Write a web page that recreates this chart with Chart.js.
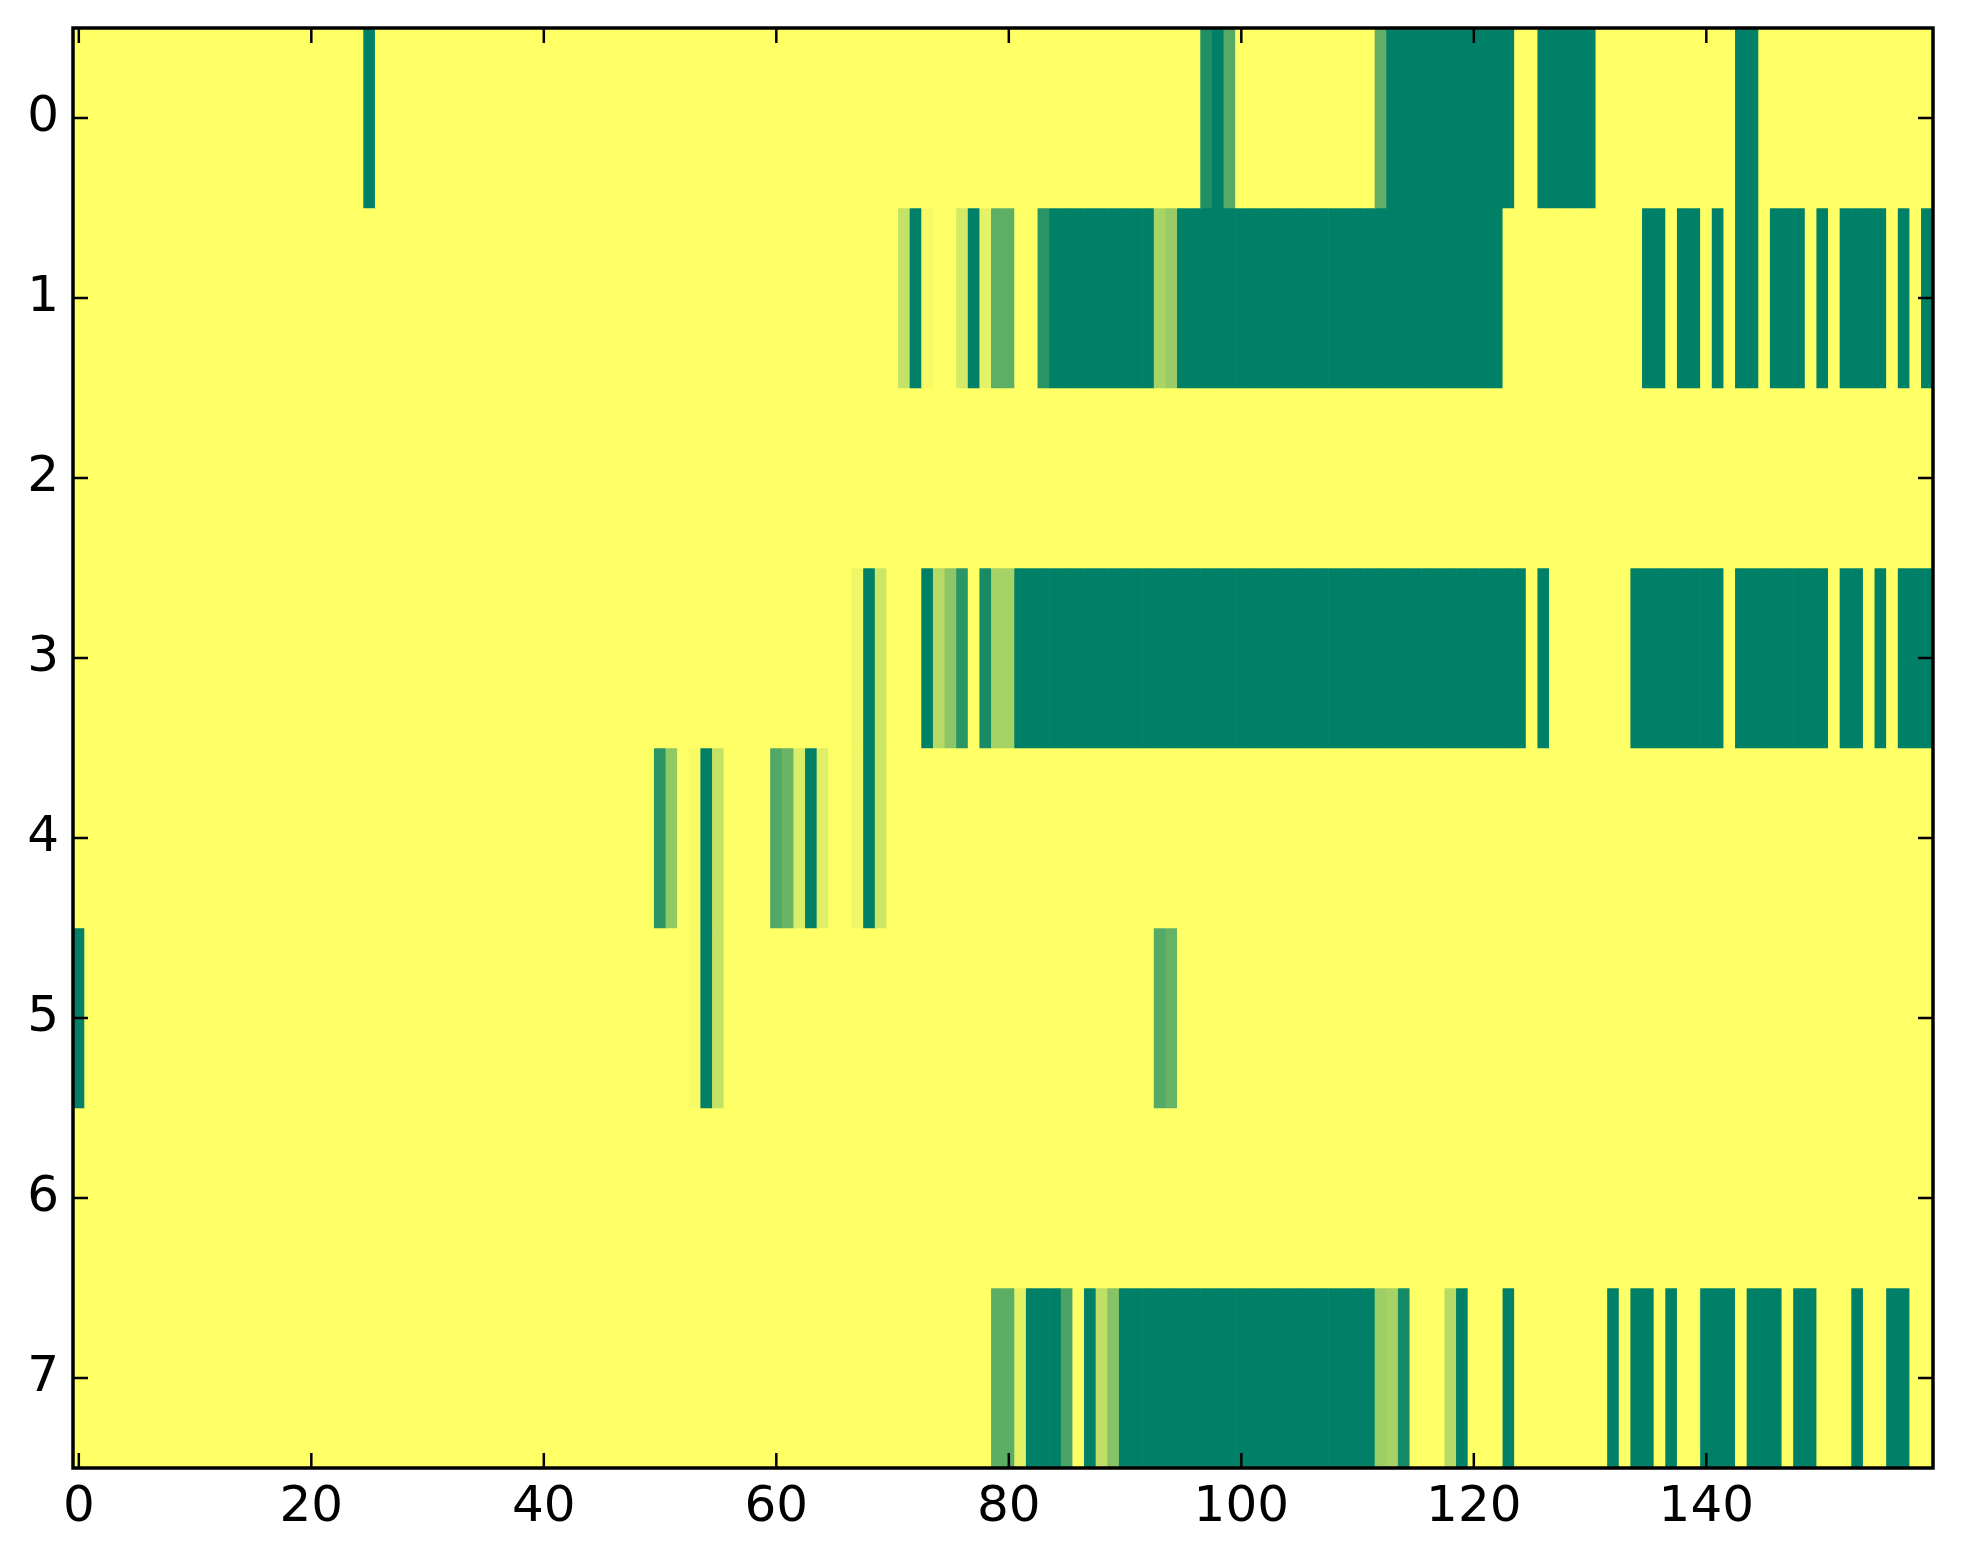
<!DOCTYPE html>
<html>
<head>
<meta charset="utf-8">
<script src="https://cdn.jsdelivr.net/npm/chart.js@4.4.1/dist/chart.umd.min.js"></script>
<style>
html, body { margin: 0; padding: 0; background: #fff; }
#wrap { width: 1963px; height: 1564px; }
</style>
</head>
<body>
<div id="wrap"><canvas id="chart-heatmap"></canvas></div>
<script>
// tick labels
var rowLabels = [0, 1, 2, 3, 4, 5, 6, 7];
var xTicks = [0, 20, 40, 60, 80, 100, 120, 140];

// cell values, one array per row, 160 columns each (0 = yellow, 1 = dark green)
var row0 = [
  0,0,0,0,0,0,0,0,0,0, 0,0,0,0,0,0,0,0,0,0,
  0,0,0,0,0,1,0,0,0,0, 0,0,0,0,0,0,0,0,0,0,
  0,0,0,0,0,0,0,0,0,0, 0,0,0,0,0,0,0,0,0,0,
  0,0,0,0,0,0,0,0,0,0, 0,0,0,0,0,0,0,0,0,0,
  0,0,0,0,0,0,0,0,0,0, 0,0,0,0,0,0,0,.87,1,.67,
  0,0,0,0,0,0,0,0,0,0, 0,0,.62,1,1,1,1,1,1,1,
  1,1,1,1,0,0,1,1,1,1, 1,0,0,0,0,0,0,0,0,0,
  0,0,0,1,1,0,0,0,0,0, 0,0,0,0,0,0,0,0,0,0
];
var row1 = [
  0,0,0,0,0,0,0,0,0,0, 0,0,0,0,0,0,0,0,0,0,
  0,0,0,0,0,0,0,0,0,0, 0,0,0,0,0,0,0,0,0,0,
  0,0,0,0,0,0,0,0,0,0, 0,0,0,0,0,0,0,0,0,0,
  0,0,0,0,0,0,0,0,0,0, 0,.23,1,.04,0,0,.17,1,.1,.63,
  .63,0,0,.84,1,1,1,1,1,1, 1,1,1,.34,.4,1,1,1,1,1,
  1,1,1,1,1,1,1,1,1,1, 1,1,1,1,1,1,1,1,1,1,
  1,1,1,0,0,0,0,0,0,0, 0,0,0,0,0,1,1,0,1,1,
  0,1,0,1,1,0,1,1,1,0, 1,0,1,1,1,1,0,1,0,1
];
var row2 = [
  0,0,0,0,0,0,0,0,0,0, 0,0,0,0,0,0,0,0,0,0,
  0,0,0,0,0,0,0,0,0,0, 0,0,0,0,0,0,0,0,0,0,
  0,0,0,0,0,0,0,0,0,0, 0,0,0,0,0,0,0,0,0,0,
  0,0,0,0,0,0,0,0,0,0, 0,0,0,0,0,0,0,0,0,0,
  0,0,0,0,0,0,0,0,0,0, 0,0,0,0,0,0,0,0,0,0,
  0,0,0,0,0,0,0,0,0,0, 0,0,0,0,0,0,0,0,0,0,
  0,0,0,0,0,0,0,0,0,0, 0,0,0,0,0,0,0,0,0,0,
  0,0,0,0,0,0,0,0,0,0, 0,0,0,0,0,0,0,0,0,0
];
var row3 = [
  0,0,0,0,0,0,0,0,0,0, 0,0,0,0,0,0,0,0,0,0,
  0,0,0,0,0,0,0,0,0,0, 0,0,0,0,0,0,0,0,0,0,
  0,0,0,0,0,0,0,0,0,0, 0,0,0,0,0,0,0,0,0,0,
  0,0,0,0,0,0,0,.06,1,.2, 0,0,0,1,.29,.45,.83,0,.91,.35,
  .35,1,1,1,1,1,1,1,1,1, 1,1,1,1,1,1,1,1,1,1,
  1,1,1,1,1,1,1,1,1,1, 1,1,1,1,1,1,1,1,1,1,
  1,1,1,1,1,0,1,0,0,0, 0,0,0,0,1,1,1,1,1,1,
  1,1,0,1,1,1,1,1,1,1, 1,0,1,1,0,1,0,1,1,1
];
var row4 = [
  0,0,0,0,0,0,0,0,0,0, 0,0,0,0,0,0,0,0,0,0,
  0,0,0,0,0,0,0,0,0,0, 0,0,0,0,0,0,0,0,0,0,
  0,0,0,0,0,0,0,0,0,0, .83,.43,0,.03,1,.23,0,0,0,0,
  .68,.59,.14,1,.12,0,0,.06,1,.2, 0,0,0,0,0,0,0,0,0,0,
  0,0,0,0,0,0,0,0,0,0, 0,0,0,0,0,0,0,0,0,0,
  0,0,0,0,0,0,0,0,0,0, 0,0,0,0,0,0,0,0,0,0,
  0,0,0,0,0,0,0,0,0,0, 0,0,0,0,0,0,0,0,0,0,
  0,0,0,0,0,0,0,0,0,0, 0,0,0,0,0,0,0,0,0,0
];
var row5 = [
  1,0,0,0,0,0,0,0,0,0, 0,0,0,0,0,0,0,0,0,0,
  0,0,0,0,0,0,0,0,0,0, 0,0,0,0,0,0,0,0,0,0,
  0,0,0,0,0,0,0,0,0,0, 0,0,0,.03,1,.23,0,0,0,0,
  0,0,0,0,0,0,0,0,0,0, 0,0,0,0,0,0,0,0,0,0,
  0,0,0,0,0,0,0,0,0,0, 0,0,0,.67,.6,0,0,0,0,0,
  0,0,0,0,0,0,0,0,0,0, 0,0,0,0,0,0,0,0,0,0,
  0,0,0,0,0,0,0,0,0,0, 0,0,0,0,0,0,0,0,0,0,
  0,0,0,0,0,0,0,0,0,0, 0,0,0,0,0,0,0,0,0,0
];
var row6 = [
  0,0,0,0,0,0,0,0,0,0, 0,0,0,0,0,0,0,0,0,0,
  0,0,0,0,0,0,0,0,0,0, 0,0,0,0,0,0,0,0,0,0,
  0,0,0,0,0,0,0,0,0,0, 0,0,0,0,0,0,0,0,0,0,
  0,0,0,0,0,0,0,0,0,0, 0,0,0,0,0,0,0,0,0,0,
  0,0,0,0,0,0,0,0,0,0, 0,0,0,0,0,0,0,0,0,0,
  0,0,0,0,0,0,0,0,0,0, 0,0,0,0,0,0,0,0,0,0,
  0,0,0,0,0,0,0,0,0,0, 0,0,0,0,0,0,0,0,0,0,
  0,0,0,0,0,0,0,0,0,0, 0,0,0,0,0,0,0,0,0,0
];
var row7 = [
  0,0,0,0,0,0,0,0,0,0, 0,0,0,0,0,0,0,0,0,0,
  0,0,0,0,0,0,0,0,0,0, 0,0,0,0,0,0,0,0,0,0,
  0,0,0,0,0,0,0,0,0,0, 0,0,0,0,0,0,0,0,0,0,
  0,0,0,0,0,0,0,0,0,0, 0,0,0,0,0,0,0,0,0,.64,
  .64,.1,1,1,1,.71,0,1,.25,.47, 1,1,1,1,1,1,1,1,1,1,
  1,1,1,1,1,1,1,1,1,1, 1,1,.38,.35,.92,0,0,0,.28,1,
  0,0,0,1,0,0,0,0,0,0, 0,0,1,0,1,1,0,1,0,0,
  1,1,1,0,1,1,1,0,1,1, 0,0,0,1,0,0,1,1,0,0
];

var rows = [row0, row1, row2, row3, row4, row5, row6, row7];

// matplotlib "summer_r" colormap
function summerR(v) {
  var r = Math.round(255 * (1 - v));
  var g = Math.round(255 * (1 - v / 2));
  return 'rgb(' + r + ',' + g + ',102)';
}

var datasets = rows.map(function(vals, r) {
  return {
    data: vals.map(function(v, c) { return { x: c, y: [r - 0.5, r + 0.5] }; }),
    backgroundColor: vals.map(summerR),
    borderWidth: 0,
    grouped: false,
    barPercentage: 1,
    categoryPercentage: 1
  };
});

// frame and inward tick marks on all four sides
var frameTicks = {
  id: 'frameTicks',
  afterDatasetsDraw: function(chart) {
    var ctx = chart.ctx, a = chart.chartArea;
    var xs = chart.scales.x, ys = chart.scales.y;
    var len = 15;
    ctx.save();
    ctx.strokeStyle = '#000';
    ctx.lineWidth = 2.5;
    ctx.beginPath();
    xTicks.forEach(function(v) {
      var px = xs.getPixelForValue(v);
      ctx.moveTo(px, a.bottom); ctx.lineTo(px, a.bottom - len);
      ctx.moveTo(px, a.top); ctx.lineTo(px, a.top + len);
    });
    rowLabels.forEach(function(v) {
      var py = ys.getPixelForValue(v);
      ctx.moveTo(a.left, py); ctx.lineTo(a.left + len, py);
      ctx.moveTo(a.right, py); ctx.lineTo(a.right - len, py);
    });
    ctx.stroke();
    ctx.lineWidth = 3.5;
    ctx.strokeRect(a.left, a.top, a.right - a.left, a.bottom - a.top);
    ctx.restore();
  }
};

// stop the tick labels from pushing the plot area around
function noEdgePadding(axis) {
  axis.paddingTop = 0;
  axis.paddingBottom = 0;
  axis.paddingLeft = 0;
  axis.paddingRight = 0;
}

var ctx = document.getElementById('chart-heatmap');
var heatmap = new Chart(ctx, {
  type: 'bar',
  data: { datasets: datasets },
  plugins: [frameTicks],
  options: {
    responsive: true,
    maintainAspectRatio: false,
    animation: false,
    layout: { padding: { top: 28, right: 30, left: 0, bottom: 0 } },
    plugins: { legend: { display: false }, tooltip: { enabled: false } },
    scales: {
      x: {
        type: 'linear',
        min: -0.5,
        max: 159.5,
        offset: false,
        afterBuildTicks: function(axis) {
          axis.ticks = xTicks.map(function(v) { return { value: v }; });
        },
        afterFit: function(axis) { axis.height = 96; noEdgePadding(axis); },
        grid: { display: false, drawTicks: false },
        border: { display: false },
        ticks: {
          color: '#000',
          font: { family: 'DejaVu Sans', size: 50 },
          padding: 10,
          maxRotation: 0,
          autoSkip: false
        }
      },
      y: {
        type: 'linear',
        reverse: true,
        min: -0.5,
        max: 7.5,
        afterBuildTicks: function(axis) {
          axis.ticks = rowLabels.map(function(v) { return { value: v }; });
        },
        afterFit: function(axis) { axis.width = 73; noEdgePadding(axis); },
        grid: { display: false, drawTicks: false },
        border: { display: false },
        ticks: {
          color: '#000',
          font: { family: 'DejaVu Sans', size: 50 },
          padding: 14,
          autoSkip: false
        }
      }
    }
  }
});
</script>
</body>
</html>
